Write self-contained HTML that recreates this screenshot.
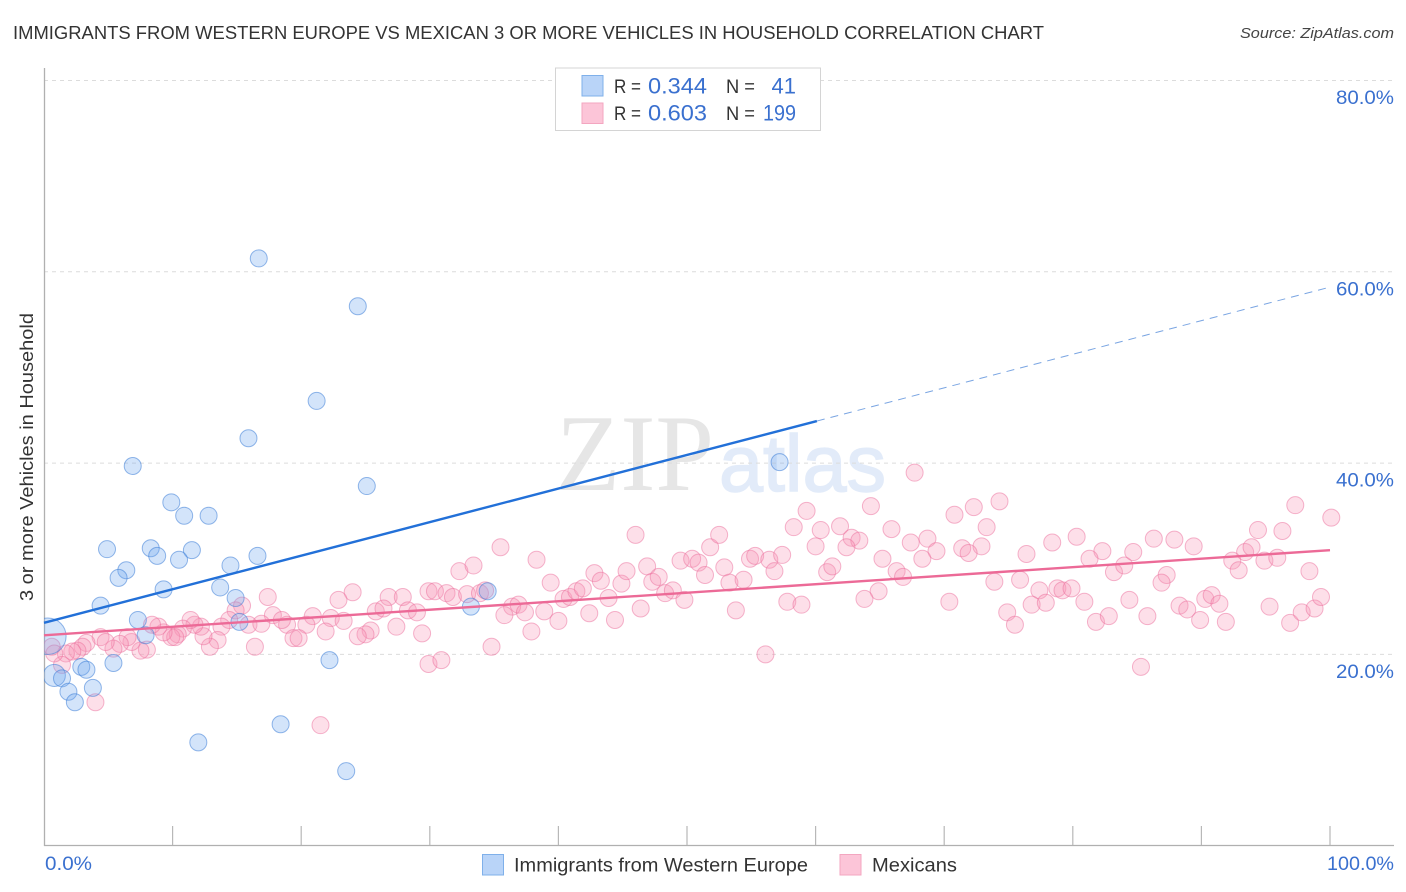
<!DOCTYPE html>
<html lang="en">
<head>
<meta charset="utf-8">
<title>Immigrants from Western Europe vs Mexican 3 or More Vehicles in Household Correlation Chart</title>
<style>
html,body{margin:0;padding:0;background:#fff;width:1406px;height:892px;overflow:hidden}
svg{display:block;font-family:"Liberation Sans",sans-serif}
</style>
</head>
<body>
<svg id="chart" xmlns="http://www.w3.org/2000/svg" width="1406" height="892" viewBox="0 0 1406 892">
  <defs><clipPath id="plot-clip"><rect x="44" y="60" width="1350" height="786"/></clipPath></defs>
  <text x="13" y="39" font-size="18.5" fill="#333" textLength="1031" lengthAdjust="spacingAndGlyphs">IMMIGRANTS FROM WESTERN EUROPE VS MEXICAN 3 OR MORE VEHICLES IN HOUSEHOLD CORRELATION CHART</text>
  <text x="1394" y="38" font-size="15" font-style="italic" fill="#444" text-anchor="end" textLength="154" lengthAdjust="spacingAndGlyphs">Source: ZipAtlas.com</text>
  <g>
    <text x="556" y="490" font-size="109" fill="#e6e6e6" style="font-family:'Liberation Serif',serif" textLength="158" lengthAdjust="spacingAndGlyphs">ZIP</text>
    <text x="719" y="491" font-size="80" fill="#e2ebf9" stroke="#e2ebf9" stroke-width="1.5" textLength="167" lengthAdjust="spacingAndGlyphs">atlas</text>
  </g>
  <g id="grid"></g>
  <g id="axes"></g>
  <g id="marks" clip-path="url(#plot-clip)"></g>
  <g id="lines"></g>
  <text transform="translate(33,457) rotate(-90)" font-size="18.5" fill="#333" text-anchor="middle" textLength="288" lengthAdjust="spacingAndGlyphs">3 or more Vehicles in Household</text>

  <g>
    <rect x="555.5" y="68" width="265" height="62.5" fill="#fff" stroke="#d4d4d4" stroke-width="1"/>
    <rect x="582" y="75.5" width="21" height="20.5" fill="#b9d4f8" stroke="#7fb0ea" stroke-width="1"/>
    <rect x="582" y="103" width="21" height="20.5" fill="#fcc5d8" stroke="#f3a6c0" stroke-width="1"/>
    <text x="614" y="93" font-size="19" fill="#333" textLength="27" lengthAdjust="spacingAndGlyphs">R =</text>
    <text x="648" y="93.5" font-size="22" fill="#3a70cf" textLength="59" lengthAdjust="spacingAndGlyphs">0.344</text>
    <text x="726" y="93" font-size="19" fill="#333" textLength="29" lengthAdjust="spacingAndGlyphs">N =</text>
    <text x="796" y="93.5" font-size="22" fill="#3a70cf" text-anchor="end">41</text>
    <text x="614" y="120" font-size="19" fill="#333" textLength="27" lengthAdjust="spacingAndGlyphs">R =</text>
    <text x="648" y="120.5" font-size="22" fill="#3a70cf" textLength="59" lengthAdjust="spacingAndGlyphs">0.603</text>
    <text x="726" y="120" font-size="19" fill="#333" textLength="29" lengthAdjust="spacingAndGlyphs">N =</text>
    <text x="796" y="120.5" font-size="22" fill="#3a70cf" text-anchor="end" textLength="33" lengthAdjust="spacingAndGlyphs">199</text>
  </g>

  <g>
    <rect x="482.5" y="854.5" width="21" height="20.5" fill="#b9d4f8" stroke="#7fb0ea" stroke-width="1"/>
    <text x="514" y="871.5" font-size="19.5" fill="#333" textLength="294" lengthAdjust="spacingAndGlyphs">Immigrants from Western Europe</text>
    <rect x="840" y="854.5" width="21" height="20.5" fill="#fcc5d8" stroke="#f3a6c0" stroke-width="1"/>
    <text x="872" y="871.5" font-size="19.5" fill="#333" textLength="85" lengthAdjust="spacingAndGlyphs">Mexicans</text>
  </g>
</svg>
<script>
const yTicks = [20, 40, 60, 80];
const xTicks = [10, 20, 30, 40, 50, 60, 70, 80, 90, 100];
const xEndLabels = [0, 100];

const blueX = [16.7,24.4,21.2,15.9,6.9,25.1,57.2,9.9,10.9,12.8,4.9,8.3,8.8,11.5,10.5,16.6,14.5,6.4,5.8,9.3,13.7,4.4,14.9,7.3,15.2,7.9,0.3,5.4,2.9,3.3,22.2,0.8,1.4,3.8,1.9,2.4,18.4,12.0,23.5,34.5,33.2];
const blueY = [61.4,56.4,46.5,42.6,39.7,37.6,40.1,35.9,34.5,34.5,31.0,31.1,30.3,30.9,29.9,30.3,29.3,28.8,28.0,26.8,27.0,25.1,25.9,23.6,23.4,22.0,21.9,19.1,18.7,18.4,19.4,17.8,17.5,16.5,16.1,15.0,12.7,10.8,7.8,26.6,25.0];
const blueWeight = [1,1,1,1,1,1,1,1,1,1,1,1,1,1,1,1,1,1,1,1,1,1,1,1,1,1,4.6,1,1,1,1,1.7,1,1,1,1,1,1,1,1,1];

const pinkX = [4.0,21.5,16.4,17.4,24.0,22.9,26.8,27.9,29.9,29.4,29.9,27.4,25.4,25.0,24.4,25.8,26.4,28.3,29.0,20.9,22.3,23.3,21.9,20.4,18.9,19.4,19.8,17.8,18.5,15.4,14.9,14.4,13.8,15.9,16.9,13.5,12.9,12.4,12.2,11.7,11.4,10.8,10.4,9.9,10.2,9.3,8.9,8.4,8.0,7.5,6.8,6.5,5.9,5.4,4.4,4.8,3.3,3.0,2.6,2.2,1.7,1.4,0.6,0.8,
30.4,31.3,31.8,32.9,33.9,34.3,32.3,33.4,35.5,38.3,39.4,36.4,36.9,35.8,37.4,38.9,40.0,37.9,34.8,30.9,40.4,40.9,41.4,41.9,42.8,43.3,43.9,42.4,44.4,46.4,44.9,45.3,46.0,46.9,47.3,47.8,48.3,48.9,49.8,49.5,50.4,50.9,51.4,51.8,52.5,52.9,53.3,54.4,53.8,56.1,54.9,55.3,56.4,56.8,57.4,57.8,58.9,58.3,59.3,60.4,60.0,61.9,62.8,63.4,62.4,60.9,61.3,64.3,65.9,65.2,66.3,66.8,64.9,63.8,
67.7,70.8,72.3,74.3,73.3,72.9,71.4,71.9,68.7,67.4,69.4,68.3,70.4,73.9,75.9,76.4,78.4,80.3,82.3,81.3,77.4,78.8,79.2,79.9,76.8,77.9,80.9,74.9,75.5,81.8,82.8,84.4,83.2,84.0,84.7,86.3,87.9,89.4,87.3,86.9,88.3,88.9,89.9,85.8,85.3,90.3,90.8,91.4,91.9,92.4,92.9,93.4,93.9,94.4,94.9,95.9,96.3,97.3,100.1,98.4,95.3,96.9,97.8,98.8,99.3];
const pinkY = [15.0,12.6,20.8,26.0,26.5,25.7,26.0,26.0,26.6,22.2,19.0,22.9,22.5,22.1,21.9,24.5,24.8,24.6,24.4,24.0,23.8,23.5,22.4,23.1,23.1,21.7,21.7,24.1,23.6,25.1,24.6,23.6,22.9,23.1,23.2,21.5,20.8,21.9,22.9,23.1,23.6,22.7,22.1,21.8,21.8,22.3,22.9,23.1,20.5,20.4,21.3,21.8,21.1,20.6,21.8,21.3,21.2,20.8,20.4,20.3,20.1,18.9,20.8,20.1,
26.6,26.4,26.0,26.3,26.4,26.7,28.7,29.3,31.2,29.9,27.5,25.0,25.2,24.1,24.4,24.5,23.5,22.4,20.8,19.4,25.8,26.0,26.6,26.9,28.5,27.7,25.9,24.3,23.6,24.8,27.4,28.7,32.5,29.2,27.6,28.1,26.4,26.7,25.7,29.8,30.0,29.6,28.3,31.2,32.5,29.1,27.5,27.8,24.6,20.0,30.0,30.3,29.9,28.7,30.4,25.5,25.2,33.3,35.0,33.0,31.3,33.4,32.2,31.9,31.2,28.6,29.2,35.5,33.1,30.0,28.7,28.1,26.6,25.8,
39.0,34.6,35.4,36.0,33.3,31.3,31.1,30.6,32.1,31.7,30.8,30.0,25.5,27.6,27.8,30.5,31.7,32.3,30.8,30.0,26.7,26.9,26.7,26.9,25.2,25.4,25.5,24.4,23.1,23.4,24.0,25.7,28.6,29.3,30.7,32.1,32.0,31.3,28.3,27.5,25.1,24.7,23.6,24.0,18.7,25.8,26.2,25.3,23.4,29.8,28.8,30.7,31.2,33.0,29.8,30.1,32.9,35.6,34.3,28.7,25.0,23.3,24.4,24.8,26.0];

const blueFitIntercept = 23.3;
const blueFitSlope = 0.351;
const blueFitSolidEnd = 60.1;
const pinkFitIntercept = 22.0;
const pinkFitSlope = 0.089;

const SVGNS = 'http://www.w3.org/2000/svg';
const xScale = v => 44 + v * 12.86;
const yScale = v => 654.4 - (v - 20) * 9.565;
const make = (tag, parent, attrs) => {
  const el = document.createElementNS(SVGNS, tag);
  for (const k in attrs) el.setAttribute(k, attrs[k]);
  parent.appendChild(el);
  return el;
};
const grid = document.getElementById('grid');
const axes = document.getElementById('axes');
const marks = document.getElementById('marks');
const lines = document.getElementById('lines');

yTicks.forEach(t => {
  const g = make('line', grid, {x1: 44, x2: 1394, y1: yScale(t), y2: yScale(t), stroke: '#dcdcdc', 'stroke-width': 1, 'stroke-dasharray': '4 4'});
  
  
  const lb = make('text', axes, {x: 1394, y: yScale(t) + 23.5, 'font-size': 19.5, fill: '#3a70cf', 'text-anchor': 'end', textLength: 58, lengthAdjust: 'spacingAndGlyphs'});
  lb.textContent = t.toFixed(1) + '%';
  
  
});

const yAxis = make('line', axes, {x1: 44.5, x2: 44.5, y1: 68, y2: 846, stroke: '#b0b0b0', 'stroke-width': 1.3});


const xAxis = make('line', axes, {x1: 44, x2: 1394, y1: 845.5, y2: 845.5, stroke: '#b0b0b0', 'stroke-width': 1.3});



xTicks.forEach(t => {
  const tk = make('line', axes, {x1: xScale(t), x2: xScale(t), y1: 826, y2: 845, stroke: '#b8b8b8', 'stroke-width': 1.2});
  
  
});

xEndLabels.forEach(t => {
  const anchorEnd = t === 100;
  const lb = make('text', axes, {x: anchorEnd ? 1394 : 45, y: 870, 'font-size': 19.5, fill: '#3a70cf', 'text-anchor': anchorEnd ? 'end' : 'start', textLength: anchorEnd ? 67 : 47, lengthAdjust: 'spacingAndGlyphs'});
  lb.textContent = t.toFixed(1) + '%';
  
  
});

const BASE_R = 8.5;
pinkX.forEach((x, i) => {
  const c = make('circle', marks, {cx: xScale(x), cy: yScale(pinkY[i]), r: BASE_R, fill: 'rgba(248,150,182,0.3)', stroke: 'rgba(235,110,155,0.5)', 'stroke-width': 1});
  
  
});
blueX.forEach((x, i) => {
  const c = make('circle', marks, {cx: xScale(x), cy: yScale(blueY[i]), r: BASE_R * Math.sqrt(blueWeight[i]), fill: 'rgba(110,165,238,0.3)', stroke: 'rgba(60,125,215,0.55)', 'stroke-width': 1});
  
  
});

const blueFit = v => blueFitIntercept + blueFitSlope * v;
const pinkFit = v => pinkFitIntercept + pinkFitSlope * v;
const blueSolid = make('line', lines, {x1: xScale(0), y1: yScale(blueFit(0)), x2: xScale(blueFitSolidEnd), y2: yScale(blueFit(blueFitSolidEnd)), stroke: '#2270d8', 'stroke-width': 2.4});


const blueDash = make('line', lines, {x1: xScale(blueFitSolidEnd), y1: yScale(blueFit(blueFitSolidEnd)), x2: xScale(100), y2: yScale(blueFit(100)), stroke: '#7aa5e2', 'stroke-width': 1, 'stroke-dasharray': '8 6'});


const pinkLine = make('line', lines, {x1: xScale(0), y1: yScale(pinkFit(0)), x2: xScale(100), y2: yScale(pinkFit(100)), stroke: '#ec6a97', 'stroke-width': 2.4});


</script>
</body>
</html>
